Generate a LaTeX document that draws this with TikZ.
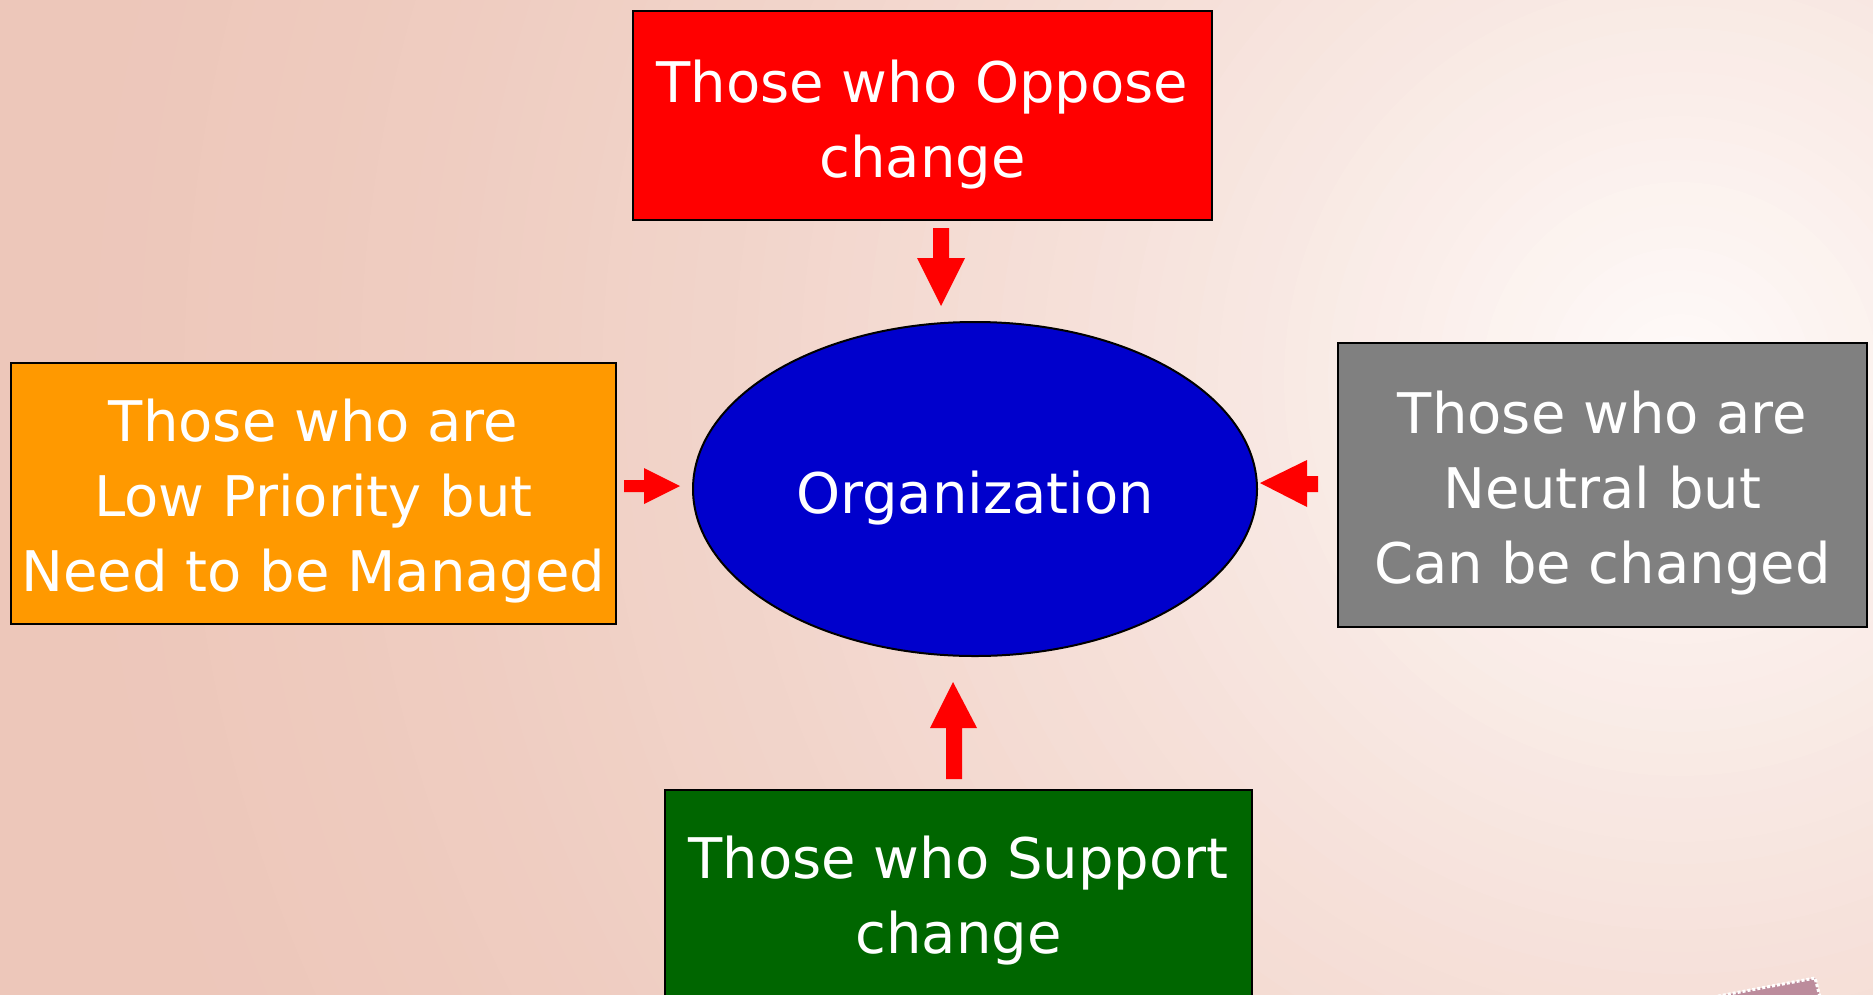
\documentclass[tikz,border=0pt]{standalone}
\usepackage{fontspec}
\setmainfont{DejaVu Sans}
\usetikzlibrary{shapes.geometric}
\definecolor{bgpink}{HTML}{EDC7BA}
\definecolor{bglight}{HTML}{FFFCFB}
\definecolor{boxred}{HTML}{FF0000}
\definecolor{boxorange}{HTML}{FF9900}
\definecolor{boxgray}{HTML}{808080}
\definecolor{boxgreen}{HTML}{006600}
\definecolor{orgblue}{HTML}{0000CC}
\definecolor{stampc}{HTML}{BC8C9C}
\begin{document}
\begin{tikzpicture}[x=1pt,y=-1pt,
  box/.style={draw=black,line width=2.5pt,inner sep=0pt},
  label/.style={inner sep=0pt,align=center,text=white,font=\fontsize{56}{75}\selectfont},
  blockarrow/.style={fill=boxred}]
\useasboundingbox (0,0) rectangle (1873,994);
\clip (0,0) rectangle (1873,994);
\fill[bgpink] (-10,-10) rectangle (1883,1004);
% radial background glow, drawn as concentric discs
\foreach \i in {92,...,1}{
  \pgfmathtruncatemacro\p{100*(max(0,1-\i*22/1700))^1.6}
  \fill[bglight!\p!bgpink] (1680,380) circle (\i*22);
}
% stamp corner
\fill[stampc, draw=white, line width=3pt, dotted] (1713,997) -- (1815,978) -- (1820,997) -- cycle;
% boxes
\node[box, fill=boxred, minimum width=579pt, minimum height=209pt] (oppose) at (922.5,115.5) {};
\node[box, fill=boxorange, minimum width=605pt, minimum height=261pt] (low) at (313.5,493.5) {};
\node[box, fill=boxgray, minimum width=529pt, minimum height=284pt] (neutral) at (1602.5,485) {};
\node[box, fill=boxgreen, minimum width=587pt, minimum height=214pt] (support) at (958.5,897) {};
\node[ellipse, draw=black, line width=2pt, fill=orgblue, minimum width=564pt, minimum height=334pt, inner sep=0pt] (org) at (975,489) {};
% texts
\node[label] (opposetext) at ([yshift=-9pt]oppose.center) {Those who Oppose\\change};
\node[label] (lowtext) at ([yshift=-8pt]low.center) {Those who are\\Low Priority but\\Need to be Managed};
\node[label] (neutraltext) at ([yshift=-8pt]neutral.center) {Those who are\\Neutral but\\Can be changed};
\node[label] (supporttext) at ([yshift=-4pt]support.center) {Those who Support\\change};
\node[label] (orgtext) at ([yshift=-9pt]org.center) {Organization};
% block arrows
\fill[blockarrow] (933,228) -- (949,228) -- (949,258) -- (965,258) -- (941,306) -- (917,258) -- (933,258) -- cycle;
\fill[blockarrow] (624,480) -- (644,480) -- (644,468) -- (680,486) -- (644,504) -- (644,492) -- (624,492) -- cycle;
\fill[blockarrow] (1318,476) -- (1307,476) -- (1307,460) -- (1260,483) -- (1307,507) -- (1307,492) -- (1318,492) -- cycle;
\fill[blockarrow] (946,779) -- (962,779) -- (962,728) -- (977,728) -- (953,682) -- (930,728) -- (946,728) -- cycle;
\end{tikzpicture}
\end{document}
